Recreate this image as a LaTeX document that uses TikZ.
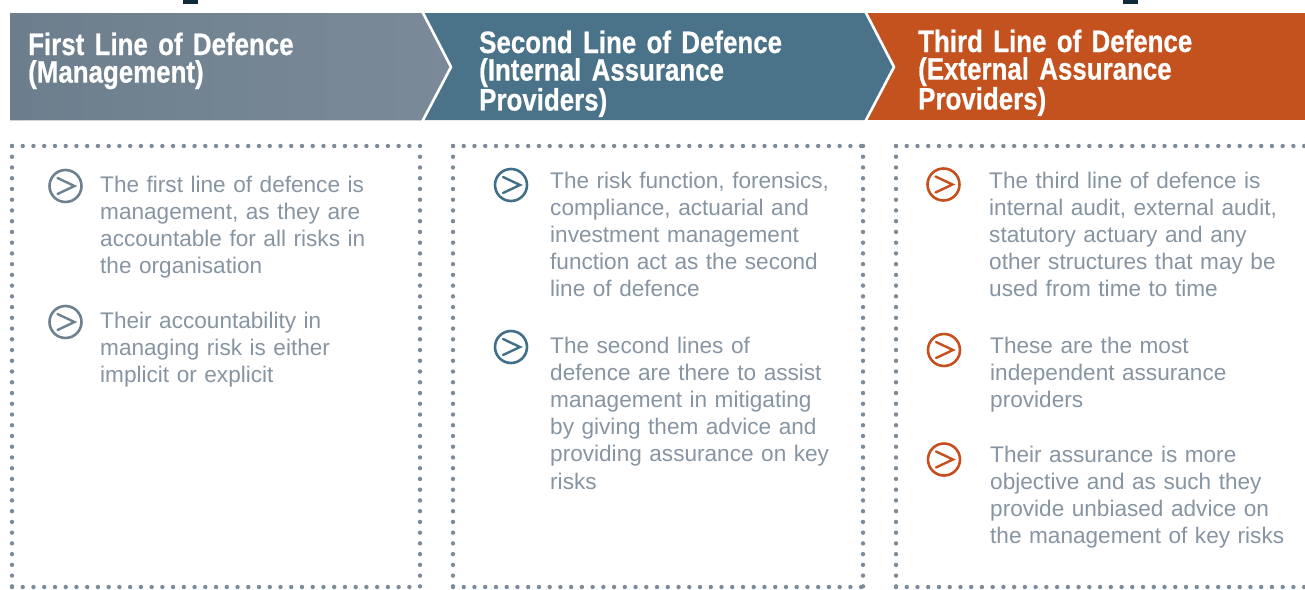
\documentclass[tikz,border=0pt]{standalone}
\usepackage{fontspec}
\setmainfont{Liberation Sans}
\newfontfamily\headfont{Liberation Sans}[FakeStretch=0.835,WordSpace=0.75,FakeBold=0.6]
\usetikzlibrary{calc}
\definecolor{mgmtgreyL}{HTML}{6C7E8D}
\definecolor{mgmtgreyR}{HTML}{7B8A98}
\definecolor{intblue}{HTML}{4A7389}
\definecolor{extorange}{HTML}{C4521F}
\definecolor{dotgrey}{HTML}{7D8B99}
\definecolor{bodygrey}{HTML}{8794A1}
\definecolor{markdark}{HTML}{102C3B}
\definecolor{bulletgrey}{HTML}{6F808F}
\definecolor{bulletblue}{HTML}{416F88}
\definecolor{bulletorange}{HTML}{C5501E}
\lineskiplimit=-100pt
\begin{document}
\begin{tikzpicture}[x=1pt,y=-1pt,
  head/.style={anchor=base west, text=white, text width=380pt, align=left, inner sep=0pt,
    font=\headfont\bfseries\fontsize{31}{27.6}\selectfont},
  body/.style={anchor=base west, text=bodygrey, text width=300pt, align=left, inner sep=0pt,
    font=\fontsize{22.6}{27.2}\selectfont},
  dots/.style={dotgrey, line width=4.4pt, line cap=round, dash pattern=on 0pt off 10.74pt},
  bullet/.style={circle, draw=#1, line width=2.6pt, minimum size=32pt, inner sep=0pt},
  chev/.style={draw=#1, line width=2.4pt, line cap=round, line join=miter},
  sep/.style={draw=white, line width=2.6pt}
]
\useasboundingbox (0,0) rectangle (1305,589);
\clip (0,0) rectangle (1305,589);

% small dark marks on the top edge
\fill[markdark] (183,0) rectangle (198,4);
\fill[markdark] (1123,0) rectangle (1138,4);

% header band: three chevron panels
\fill[extorange] (860,13) rectangle (1305,120);
\fill[intblue] (420,13) -- (865,13) -- (894,67) -- (865,120) -- (420,120) -- cycle;
\fill[left color=mgmtgreyL, right color=mgmtgreyR] (10,13) -- (422,13) -- (451,67) -- (422,120) -- (10,120) -- cycle;
\coordinate (s1a) at (422,11); \coordinate (s1b) at (451,67); \coordinate (s1c) at (422,122);
\coordinate (s2a) at (865,11); \coordinate (s2b) at (894,67); \coordinate (s2c) at (865,122);
\draw[sep] (s1a) -- (s1b) -- (s1c);
\draw[sep] (s2a) -- (s2b) -- (s2c);

\node[head] (h1) at (28,55) {First Line of Defence\\(Management)};
\node[head] (h2) at (479,53) {Second Line of Defence\\(Internal Assurance\\Providers)};
\node[head] (h3) at (918,52) {Third Line of Defence\\(External Assurance\\Providers)};

% dotted panels
\draw[dots] (12,146) -- (420,146);
\draw[dots] (12,587) -- (420,587);
\draw[dots] (12,146) -- (12,587);
\draw[dots] (420,146) -- (420,587);

\draw[dots] (453,146) -- (863,146);
\draw[dots] (453,587) -- (863,587);
\draw[dots] (453,146) -- (453,587);
\draw[dots] (863,146) -- (863,587);

\draw[dots] (896,146) -- (1320,146);
\draw[dots] (896,587) -- (1320,587);
\draw[dots] (896,146) -- (896,587);

% first line of defence
\node[bullet=bulletgrey] (b11) at (65.5,186) {};
\draw[chev=bulletgrey] ($(b11)+(-8,-8)$) -- ($(b11)+(9,0)$) -- ($(b11)+(-8,8)$);
\node[body] (t11) at (100,192) {The first line of defence is\\management, as they are\\accountable for all risks in\\the organisation};
\node[bullet=bulletgrey] (b12) at (65.5,322) {};
\draw[chev=bulletgrey] ($(b12)+(-8,-8)$) -- ($(b12)+(9,0)$) -- ($(b12)+(-8,8)$);
\node[body] (t12) at (100,328) {Their accountability in\\managing risk is either\\implicit or explicit};

% second line of defence
\node[bullet=bulletblue] (b21) at (511,185) {};
\draw[chev=bulletblue] ($(b21)+(-8,-8)$) -- ($(b21)+(9,0)$) -- ($(b21)+(-8,8)$);
\node[body] (t21) at (550,188) {The risk function, forensics,\\compliance, actuarial and\\investment management\\function act as the second\\line of defence};
\node[bullet=bulletblue] (b22) at (511,347) {};
\draw[chev=bulletblue] ($(b22)+(-8,-8)$) -- ($(b22)+(9,0)$) -- ($(b22)+(-8,8)$);
\node[body] (t22) at (550,353) {The second lines of\\defence are there to assist\\management in mitigating\\by giving them advice and\\providing assurance on key\\risks};

% third line of defence
\node[bullet=bulletorange] (b31) at (943.5,184.5) {};
\draw[chev=bulletorange] ($(b31)+(-8,-8)$) -- ($(b31)+(9,0)$) -- ($(b31)+(-8,8)$);
\node[body] (t31) at (989,188) {The third line of defence is\\internal audit, external audit,\\statutory actuary and any\\other structures that may be\\used from time to time};
\node[bullet=bulletorange] (b32) at (944,350) {};
\draw[chev=bulletorange] ($(b32)+(-8,-8)$) -- ($(b32)+(9,0)$) -- ($(b32)+(-8,8)$);
\node[body] (t32) at (990,353) {These are the most\\independent assurance\\providers};
\node[bullet=bulletorange] (b33) at (944,459.5) {};
\draw[chev=bulletorange] ($(b33)+(-8,-8)$) -- ($(b33)+(9,0)$) -- ($(b33)+(-8,8)$);
\node[body] (t33) at (990,462) {Their assurance is more\\objective and as such they\\provide unbiased advice on\\the management of key risks};
\end{tikzpicture}
\end{document}
